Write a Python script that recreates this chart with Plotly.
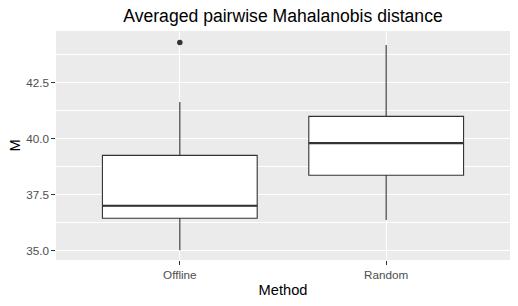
import plotly.graph_objects as go

categories = ["Offline", "Random"]
q1 = [36.44, 38.36]
median = [37.00, 39.80]
q3 = [39.25, 40.99]
lower_whisker = [35.02, 36.36]
upper_whisker = [41.63, 44.17]
outlier_cat = ["Offline"]
outlier_val = [44.29]

y_ticks = [35.0, 37.5, 40.0, 42.5]
y_tick_labels = ["35.0", "37.5", "40.0", "42.5"]

BOX_W = 0.75
FONT = "Liberation Sans, Arial, sans-serif"

xpos = list(range(len(categories)))

fig = go.Figure()
for i, c in enumerate(categories):
    fig.add_trace(go.Box(
        x=[xpos[i]], q1=[q1[i]], median=[median[i]], q3=[q3[i]],
        lowerfence=[lower_whisker[i]], upperfence=[upper_whisker[i]],
        width=BOX_W, fillcolor="white",
        line=dict(color="#333333", width=1.1),
        whiskerwidth=0, boxpoints=False, showlegend=False, name=c,
        hoverinfo="skip",
    ))

# thicker median lines (ggplot fatten)
mx, my = [], []
for i in xpos:
    mx += [i - BOX_W / 2, i + BOX_W / 2, None]
    my += [median[i], median[i], None]
fig.add_trace(go.Scatter(x=mx, y=my, mode="lines",
                         line=dict(color="#333333", width=2.2),
                         showlegend=False, hoverinfo="skip"))

fig.add_trace(go.Scatter(
    x=[categories.index(c) for c in outlier_cat], y=outlier_val,
    mode="markers", marker=dict(color="#333333", size=5.5),
    showlegend=False, hoverinfo="skip"))

fig.update_layout(
    width=518, height=306,
    margin=dict(l=56, r=8, t=31, b=46),
    paper_bgcolor="white", plot_bgcolor="#EBEBEB",
    font=dict(family=FONT, color="black"),
    title=dict(text="Averaged pairwise Mahalanobis distance",
               x=0.5, xref="paper", xanchor="center",
               y=1 - 15.5 / 306, yref="container", yanchor="middle",
               font=dict(size=17.6, color="black", family=FONT)),
    xaxis=dict(
        range=[-0.6, 1.6], tickvals=xpos, ticktext=categories,
        showgrid=True, gridcolor="white", gridwidth=1.1,
        zeroline=False, showline=False,
        ticks="outside", ticklen=3.7, tickwidth=1.1, tickcolor="#333333",
        tickfont=dict(size=11.7, color="#4D4D4D", family=FONT),
        title=dict(text="Method", font=dict(size=14.67, color="black", family=FONT),
                   standoff=4),
    ),
    yaxis=dict(
        range=[34.58, 44.80], tickvals=y_ticks, ticktext=y_tick_labels,
        showgrid=True, gridcolor="white", gridwidth=1.1,
        zeroline=False, showline=False,
        ticks="outside", ticklen=3.7, tickwidth=1.1, tickcolor="#333333",
        tickfont=dict(size=11.7, color="#4D4D4D", family=FONT),
        minor=dict(tick0=36.25, dtick=2.5, showgrid=True,
                   gridcolor="white", gridwidth=0.55, ticks=""),
        title=dict(text="M", font=dict(size=14.67, color="black", family=FONT),
                   standoff=2),
    ),
)

fig.write_html("out.html")
